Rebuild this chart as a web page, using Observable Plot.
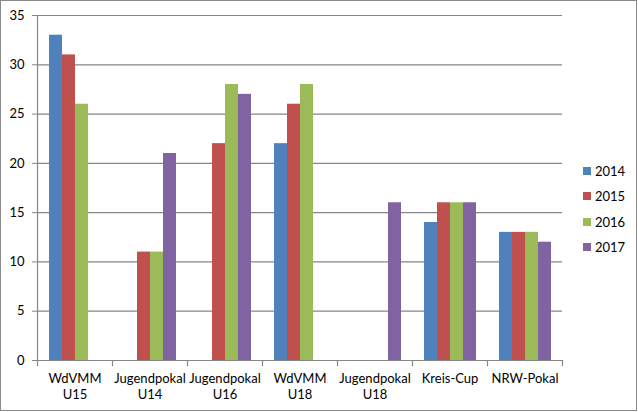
<!DOCTYPE html>
<html>
<head>
<meta charset="utf-8">
<script src="https://cdn.jsdelivr.net/npm/d3@7"></script>
<script src="https://cdn.jsdelivr.net/npm/@observablehq/plot@0.6"></script>
<style>
  body { margin: 0; background: #fff; }
  #wrap { position: relative; width: 638px; height: 412px; font-family: Lato, "Liberation Sans", sans-serif; }
  #border { position: absolute; left: 0; top: 0; width: 637px; height: 411px; box-sizing: border-box; border: 1px solid #8a8a8a; pointer-events: none; }
  #legend { position: absolute; left: 583px; top: 158px; font-size: 13px; color: #000; }
  .item { display: flex; align-items: center; height: 25.5px; }
  .sw { width: 8px; height: 8px; margin-right: 4px; }
</style>
</head>
<body>
<div id="wrap"><div id="chart"></div><div id="legend"></div><div id="border"></div></div>
<script>
const categories = ["WdVMM U15", "Jugendpokal U14", "Jugendpokal U16", "WdVMM U18", "Jugendpokal U18", "Kreis-Cup", "NRW-Pokal"];
const years = ["2014", "2015", "2016", "2017"];
const values2014 = [33, null, null, 22, null, 14, 13];
const values2015 = [31, 11, 22, 26, null, 16, 13];
const values2016 = [26, 11, 28, 28, null, 16, 13];
const values2017 = [null, 21, 27, null, 16, 16, 12];
const colors = ["#4F81BD", "#C0504D", "#9BBB59", "#8064A2"];
const yTicks = [0, 5, 10, 15, 20, 25, 30, 35];

const series = [values2014, values2015, values2016, values2017];
const data = [];
categories.forEach((c, i) => {
  years.forEach((y, j) => {
    const v = series[j][i];
    if (v != null) data.push({cat: c, year: y, value: v});
  });
});

const marginTop = 15, marginBottom = 52, height = 412;
const innerH = height - marginTop - marginBottom;
const axisColor = "#868686";

const chart = Plot.plot({
  width: 638,
  height,
  marginLeft: 36,
  marginRight: 76,
  marginTop,
  marginBottom,
  style: {fontFamily: "Lato, 'Liberation Sans', sans-serif", fontSize: "13px", color: "#000", background: "transparent"},
  fx: {domain: categories, padding: 0, label: null},
  x: {domain: years, paddingInner: 0, paddingOuter: 0.78, axis: null},
  y: {domain: [0, 35], label: null},
  color: {domain: years, range: colors},
  marks: [
    Plot.gridY(yTicks.filter(d => d > 0), {stroke: axisColor, strokeOpacity: 1, strokeWidth: 1.2}),
    Plot.barY(data, {fx: "cat", x: "year", y: "value", fill: "year", insetLeft: 0, insetRight: 0}),
    Plot.ruleY([0], {stroke: axisColor, strokeWidth: 1.2}),
    Plot.frame({anchor: "left", facetAnchor: "left", stroke: axisColor, strokeWidth: 1.2}),
    Plot.frame({anchor: "left", stroke: axisColor, strokeWidth: 1.2, insetTop: innerH, insetBottom: -5}),
    Plot.frame({anchor: "right", facetAnchor: "right", stroke: axisColor, strokeWidth: 1.2, insetTop: innerH, insetBottom: -5}),
    Plot.axisY(yTicks, {tickSize: 5, tickPadding: 8, stroke: axisColor, fontSize: 13}),
    Plot.axisFx({anchor: "bottom", tickSize: 0, tickPadding: 11, lineHeight: 1.25, fontSize: 13,
      tickFormat: d => d.replace(" ", "\n")})
  ]
});
document.getElementById("chart").appendChild(chart);

const legend = document.getElementById("legend");
years.forEach((y, i) => {
  const item = document.createElement("div");
  item.className = "item";
  item.innerHTML = `<span class="sw" style="background:${colors[i]}"></span><span>${y}</span>`;
  legend.appendChild(item);
});
</script>
</body>
</html>
